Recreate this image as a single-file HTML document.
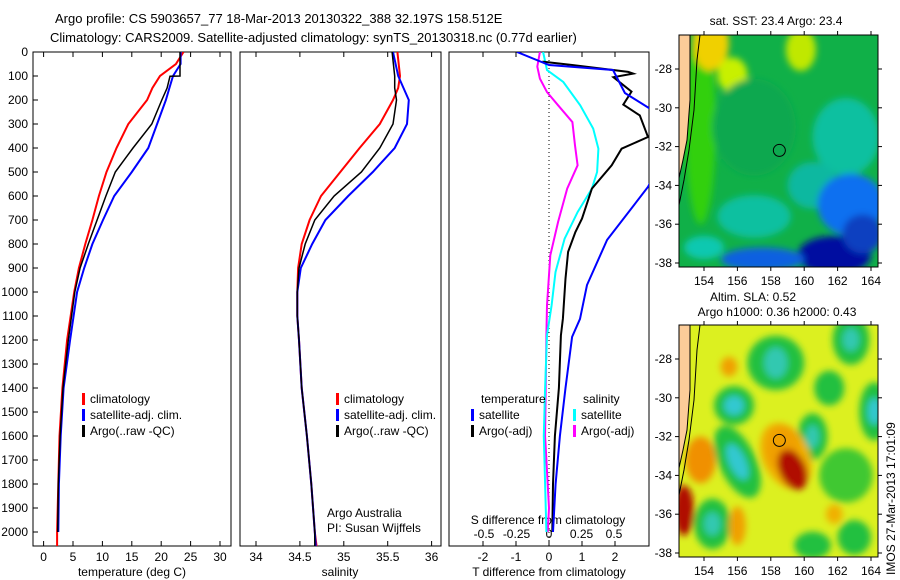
<!DOCTYPE html>
<html><head><meta charset="utf-8">
<style>
html,body{margin:0;padding:0;background:#fff;}
svg{display:block;font-family:"Liberation Sans",sans-serif;}
</style></head>
<body>
<svg id="fig" width="900" height="580" viewBox="0 0 900 580" xmlns="http://www.w3.org/2000/svg">
<defs>
<filter id="blur6" x="-50%" y="-50%" width="200%" height="200%"><feGaussianBlur stdDeviation="3.5"/></filter>
<clipPath id="clipP1"><rect x="33" y="52" width="198" height="494"/></clipPath>
<clipPath id="clipP2"><rect x="240" y="52" width="201" height="494"/></clipPath>
<clipPath id="clipP3"><rect x="449" y="52" width="200" height="494"/></clipPath>
<clipPath id="clipM1"><rect x="679" y="35" width="199" height="232"/></clipPath>
<clipPath id="clipM2"><rect x="679" y="325" width="199" height="232"/></clipPath>
</defs>
<text x="55" y="23" font-size="13">Argo profile: CS 5903657_77 18-Mar-2013 20130322_388 32.197S 158.512E</text>
<text x="50" y="42" font-size="13">Climatology: CARS2009. Satellite-adjusted climatology: synTS_20130318.nc (0.77d earlier)</text>
<g id="layer"></g>
</svg>
<script>
// ---- data ----
const tClimDepth=[0,50,100,150,200,300,400,500,600,700,800,900,1000,1200,1400,1600,1800,2000,2060];
const tClim=[23.8,22.5,19.8,18.5,17.6,14.4,12.4,10.7,9.4,8.3,7.1,6.0,5.2,4.0,3.2,2.7,2.5,2.3,2.3];
const tSatDepth=[0,50,100,150,200,300,400,500,600,700,800,900,1000,1200,1400,1600,1800,2000];
const tSat=[23.3,23.3,22.0,21.4,20.8,19.3,17.8,15.0,12.0,10.1,8.3,6.9,5.7,4.5,3.4,2.9,2.6,2.5];
const tArgoDepth=[0,100,101,150,200,300,400,500,600,700,800,900,1000,1200,1400,1600,1800,2000];
const tArgo=[23.2,23.2,21.5,21.0,20.1,18.4,15.2,12.2,10.6,9.1,7.6,6.2,5.3,4.2,3.3,2.8,2.5,2.4];
const sDepth=[0,100,150,200,300,400,500,600,700,800,900,1000,1100,1200,1400,1600,1800,2000,2060];
const sClim=[35.61,35.64,35.62,35.56,35.41,35.18,34.96,34.74,34.61,34.52,34.48,34.47,34.47,34.49,34.52,34.58,34.63,34.67,34.69];
const sSat=[35.56,35.62,35.68,35.74,35.72,35.58,35.33,35.05,34.79,34.64,34.51,34.47,34.47,34.49,34.52,34.58,34.63,34.67,34.68];
const sArgo=[35.55,35.58,35.58,35.60,35.56,35.41,35.20,34.89,34.67,34.56,34.49,34.47,34.47,34.49,34.52,34.58,34.63,34.67,34.67];
const dtSatDepth=[0,54,75,171,300,400,562,783,971,1112,1187,1400,1600,1800,2000];
const dtSat=[-0.97,0,1.94,2.3,3.8,3.6,3.0,1.76,1.15,0.94,0.7,0.5,0.33,0.2,0.12];
const dtArgoDepth=[40,54,83,90,105,165,219,264,354,403,472,569,694,750,833,944,1111,1181,1400,1600,1800,2000];
const dtArgo=[-0.2,0.7,2.4,2.55,1.95,2.5,2.25,2.75,3.0,2.2,1.9,1.3,1.0,0.8,0.58,0.5,0.42,0.36,0.3,0.18,0.12,0.1];
const dsSatDepth=[0,75,125,222,319,403,500,569,667,778,917,1056,1180,1400,1600,2000];
const dsSat=[-0.045,-0.015,0.11,0.24,0.34,0.38,0.37,0.33,0.22,0.12,0.05,0.02,-0.015,-0.03,-0.04,-0.02];
const dsArgoDepth=[0,61,111,167,222,292,389,472,569,708,847,1056,1180,1600,1900,2000];
const dsArgo=[-0.07,-0.09,-0.07,-0.015,0.07,0.18,0.2,0.22,0.14,0.07,0.01,-0.015,-0.02,-0.03,0,-0.01];
const depthTicks=[0,100,200,300,400,500,600,700,800,900,1000,1100,1200,1300,1400,1500,1600,1700,1800,1900,2000];
const tTicks=[0,5,10,15,20,25,30];
const sTicks=[34,34.5,35,35.5,36];
const sTickLabels=["34","34.5","35","35.5","36"];
const dtTicks=[-2,-1,0,1,2];
const dsTicks=[-0.5,-0.25,0,0.25,0.5];
const lonTicks=[154,156,158,160,162,164];
const latTicks=[-28,-30,-32,-34,-36,-38];

// ---- scales ----
const yD=d=>52+d*0.24;
const xT=v=>43.6+v*5.88;
const xS=v=>256+(v-34)*87.8;
const xDT=v=>549+v*33;
const xDS=v=>549+v*130;
const lonX=l=>704+(l-154)*16.7;
const latY1=l=>69+(-28-l)*19.4;
const latY2=l=>359+(-28-l)*19.4;

const NS="http://www.w3.org/2000/svg";
const layer=document.getElementById('layer');
function mk(tag,attrs,parent){const e=document.createElementNS(NS,tag);for(const k in attrs)e.setAttribute(k,attrs[k]);(parent||layer).appendChild(e);return e;}
function txt(x,y,s,size,anchor,parent){const e=mk('text',{x:x,y:y,'font-size':size||12,'text-anchor':anchor||'start'},parent);e.textContent=s;return e;}

function line(xs,ds,xf,color,clip,name,w){
  const pts=xs.map((v,i)=>xf(v).toFixed(1)+','+yD(ds[i]).toFixed(1)).join(' ');
  const p=mk('polyline',{points:pts,fill:'none',stroke:color,'stroke-width':w||2,'clip-path':'url(#'+clip+')'});
  
  
}
function panel(x,w,name){
  const r=mk('rect',{x:x,y:52,width:w,height:494,fill:'#fff',stroke:'#000','stroke-width':1});
  
  
}
panel(33,198,'temperature-panel');panel(240,201,'salinity-panel');panel(449,200,'difference-panel');

depthTicks.forEach(d=>{
  mk('line',{x1:33,y1:yD(d),x2:38,y2:yD(d),stroke:'#000'});
  const t=txt(28,yD(d)+4,String(d),12,'end');
  
  
});
function xticks(ticks,labels,xf,y,name){
  ticks.forEach((v,i)=>{
    mk('line',{x1:xf(v),y1:52,x2:xf(v),y2:57,stroke:'#000'});
    mk('line',{x1:xf(v),y1:546,x2:xf(v),y2:541,stroke:'#000'});
    const t=txt(xf(v),y,labels[i],12,'middle');
    
    
  });
}
xticks(tTicks,tTicks.map(String),xT,561,'temperature-tick-label');
xticks(sTicks,sTickLabels,xS,561,'salinity-tick-label');
xticks(dtTicks,dtTicks.map(String),xDT,561,'t-diff-tick-label');
dsTicks.forEach(v=>{
  const t=txt(xDS(v),538,String(v).replace('0.','.').replace('.','0.'),12,'middle');
  
  
});
txt(132,576,'temperature (deg C)',12,'middle');
txt(340,576,'salinity',12,'middle');
txt(549,576,'T difference from climatology',12,'middle');
txt(548,524,'S difference from climatology',12,'middle');
txt(327,517,'Argo Australia',12);
txt(327,532,'PI: Susan Wijffels',12);

mk('line',{x1:xDT(0),y1:52,x2:xDT(0),y2:546,stroke:'#000','stroke-dasharray':'1,3'});

line(tClim,tClimDepth,xT,'#f00','clipP1','temp-climatology-line');
line(tSat,tSatDepth,xT,'#00f','clipP1','temp-satellite-line');
line(tArgo,tArgoDepth,xT,'#000','clipP1','temp-argo-line',1.5);
line(sClim,sDepth,xS,'#f00','clipP2','sal-climatology-line');
line(sSat,sDepth,xS,'#00f','clipP2','sal-satellite-line');
line(sArgo,sDepth,xS,'#000','clipP2','sal-argo-line',1.5);
line(dsArgo,dsArgoDepth,xDS,'#f0f','clipP3','sdiff-argo-line');
line(dsSat,dsSatDepth,xDS,'#0ff','clipP3','sdiff-satellite-line');
line(dtArgo,dtArgoDepth,xDT,'#000','clipP3','tdiff-argo-line');
line(dtSat,dtSatDepth,xDT,'#00f','clipP3','tdiff-satellite-line');

function legend(x,y,color,label,name){
  mk('rect',{x:x,y:y-10,width:3,height:12,fill:color});
  const t=txt(x+8,y,label,12);
  
  
}
[[82,'#f00','climatology'],[82,'#00f','satellite-adj. clim.'],[82,'#000','Argo(..raw -QC)']].forEach((l,i)=>legend(l[0],403+i*16,l[1],l[2],'legend-temp-entry'));
[[336,'#f00','climatology'],[336,'#00f','satellite-adj. clim.'],[336,'#000','Argo(..raw -QC)']].forEach((l,i)=>legend(l[0],403+i*16,l[1],l[2],'legend-sal-entry'));
txt(481,403,'temperature',12);
txt(583,403,'salinity',12);
legend(471,419,'#00f','satellite','legend-tdiff-satellite');
legend(471,435,'#000','Argo(-adj)','legend-tdiff-argo');
legend(573,419,'#0ff','satellite','legend-sdiff-satellite');
legend(573,435,'#f0f','Argo(-adj)','legend-sdiff-argo');

// ---- maps ----
function blob(g,lon,lat,rx,ry,color,latY,rot){
  const cx=lonX(lon),cy=latY(lat);
  mk('ellipse',{cx:cx,cy:cy,rx:rx*16.7,ry:ry*19.4,fill:color,transform:'rotate('+(rot||0)+' '+cx+' '+cy+')'},g);
}
function map(y0,latY,clip,base,blobs,name,circleFill){
  const g=mk('g',{'clip-path':'url(#'+clip+')'});
  
  
  mk('rect',{x:679,y:y0,width:199,height:232,fill:base},g);
  const b=mk('g',{filter:'url(#blur6)'},g);
  blobs.forEach(a=>blob(b,a[0],a[1],a[2],a[3],a[4],latY,a[5]));
  const d=latY(-28)-69;
  mk('polygon',{points:`679,${y0} 690,${y0} 690,${100+d} 687,${140+d} 683,${160+d} 679,${178+d}`,fill:'#fccc99'},g);
  mk('polyline',{points:`690,${y0} 690,${100+d} 687,${140+d} 683,${160+d} 679,${178+d}`,fill:'none',stroke:'#000'},g);
  mk('polyline',{points:`700,${y0} 697,${60+d} 694,${110+d} 689,${150+d} 684,${180+d} 679,${205+d}`,fill:'none',stroke:'#000'},g);
  mk('circle',{cx:lonX(158.512),cy:latY(-32.197),r:6,fill:circleFill,stroke:'#000'},g);
  mk('rect',{x:679,y:y0,width:199,height:232,fill:'none',stroke:'#000'});
  lonTicks.forEach(l=>{mk('line',{x1:lonX(l),y1:y0,x2:lonX(l),y2:y0-4,stroke:'#000'});mk('line',{x1:lonX(l),y1:y0+232,x2:lonX(l),y2:y0+236,stroke:'#000'});
    const t=txt(lonX(l),y0+250,String(l),12,'middle');});
  latTicks.forEach(l=>{mk('line',{x1:679,y1:latY(l),x2:675,y2:latY(l),stroke:'#000'});mk('line',{x1:878,y1:latY(l),x2:882,y2:latY(l),stroke:'#000'});
    const t=txt(672,latY(l)+4,String(l),12,'end');});
}
map(35,latY1,'clipM1','#10b048',[
 [153.8,-31,0.9,5,'#30d010'],
 [154.4,-26.7,1.1,1.4,'#f0d000'],[155.7,-28.3,0.9,0.9,'#c8f000'],[159.8,-27,0.9,1.1,'#c0e800'],
 [157,-31,2.5,2.5,'#0ea850'],[162.5,-31.5,2,2,'#10c0a0'],[160.5,-34,1.5,1.2,'#10b8a0'],
 [157,-35.6,2.2,1.1,'#10c0a0'],[162.8,-35,2,1.6,'#1070f0'],[161.8,-37.6,2.2,1,'#0010a0'],
 [157.5,-37.8,2.5,0.6,'#1060e0'],[154,-37.2,1.2,0.6,'#10c8b0'],[163.5,-36.5,1.2,1,'#1040c0']],'sst-map','none');
map(325,latY2,'clipM2','#dcf020',[
 [158.3,-28.2,1.7,1.4,'#20c040'],[158.3,-28.2,0.7,0.8,'#30c8b0'],[162.8,-27,1.1,1.3,'#20c040'],[162.8,-27,0.5,0.6,'#30c8b0'],
 [161.5,-29.5,0.9,0.9,'#20c040'],[155.8,-30.4,1.2,1,'#20c040'],[155.8,-30.4,0.6,0.5,'#30c8d0'],
 [164.2,-30.7,0.9,1.5,'#20c040'],[164.2,-30.7,0.4,0.7,'#30c8d0'],[160.5,-32,0.9,1.2,'#20c040'],[160.5,-32,0.4,0.6,'#30c8b0'],
 [156,-33.3,1.1,2,'#20c040',-25],[156,-33.3,0.5,1,'#30c8d0',-25],[162.5,-34,1.6,1.4,'#40c830'],
 [154.5,-36.5,1.1,1.3,'#20c040'],[154.5,-36.5,0.5,0.6,'#30c8b0'],[160.5,-37.6,1.1,0.7,'#20c040'],[163,-37.2,1,0.9,'#20c040'],
 [158.9,-33,1.4,1.8,'#f0b000',-25],[158.7,-32.6,1,1.2,'#f0a000'],[159.3,-33.7,0.8,1.1,'#b01000',-25],[153.8,-33.2,0.9,1.2,'#f09000'],
 [152.8,-35.8,0.6,1.3,'#b01000'],[156,-36.6,0.5,1,'#f0a000'],[155.5,-28.4,0.5,0.5,'#f0a000'],[161.8,-36,0.5,0.5,'#f0b000']],'sla-map','#f0a000');
txt(776,25,'sat. SST: 23.4 Argo: 23.4',12,'middle');
txt(753,301,'Altim. SLA: 0.52',12,'middle');
txt(777,316,'Argo h1000: 0.36 h2000: 0.43',12,'middle');
const st=txt(0,0,'IMOS 27-Mar-2013 17:01:09',12,'start');
st.setAttribute('transform','translate(895,575) rotate(-90)');


</script>
</body></html>
